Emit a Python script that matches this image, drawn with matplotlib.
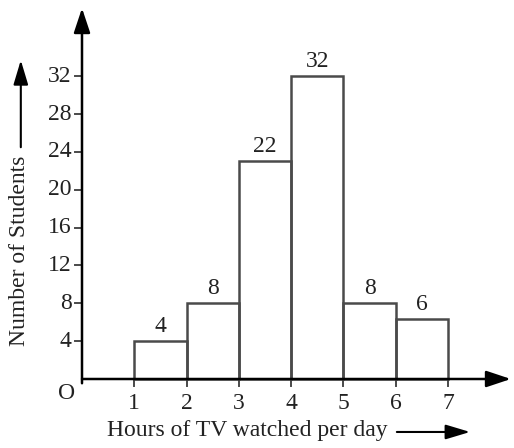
import matplotlib
matplotlib.use("Agg")
import matplotlib.pyplot as plt

# Data
bin_edges = [1, 2, 3, 4, 5, 6, 7]
heights = [4, 8, 23, 32, 8, 6.3]          # drawn bar heights as read
bar_labels = ["4", "8", "22", "32", "8", "6"]
y_ticks = [4, 8, 12, 16, 20, 24, 28, 32]
x_ticks = [1, 2, 3, 4, 5, 6, 7]

plt.rcParams['font.family'] = ['Liberation Serif', 'DejaVu Serif']
fig = plt.figure(figsize=(5.14, 4.48), dpi=100)
ax = fig.add_axes([0, 0, 1, 1])
ax.set_xlim(-82 / 52.3, (514 - 82) / 52.3)
ax.set_ylim(-(448 - 379) / 9.46, 379 / 9.46)
ax.axis('off')

lc = '#4a4a4a'
tc = '#222222'
fs = 17

# bars
lefts = bin_edges[:-1]
widths = [b - a for a, b in zip(bin_edges[:-1], bin_edges[1:])]
ax.bar(lefts, heights, width=widths, align='edge', fill=False,
       edgecolor=lc, linewidth=1.8, zorder=2)
for l, w, h, t in zip(lefts, widths, heights, bar_labels):
    ax.text(l + w / 2, h + 1.55, t, ha='center', va='center', fontsize=fs, color=tc)

# axes with arrows
big = dict(arrowstyle='-|>,head_length=1.5,head_width=0.5',
           color='black', lw=1.8, shrinkA=0, shrinkB=0)
ax.annotate('', xy=(0, 39.2), xytext=(0, -0.45), arrowprops=big)
ax.annotate('', xy=(8.2, 0), xytext=(0, 0), arrowprops=big)

# ticks
for v in y_ticks:
    ax.plot([-0.13, 0], [v, v], color=lc, lw=1.4)
    ax.text(-0.2, v, str(v), ha='right', va='center', fontsize=fs, color=tc)
for v in x_ticks:
    ax.plot([v, v], [0, -0.7], color=lc, lw=1.4)
    ax.text(v, -2.55, str(v), ha='center', va='center', fontsize=fs, color=tc)
ax.text(-0.29, -1.5, 'O', ha='center', va='center', fontsize=fs, color=tc)

# axis labels with arrows
small = dict(arrowstyle='-|>,head_length=1.5,head_width=0.45',
             color='black', lw=1.5, shrinkA=0, shrinkB=0)
ax.text(3.17, -5.4, 'Hours of TV watched per day', ha='center', va='center',
        fontsize=fs, color=tc)
ax.annotate('', xy=(7.42, -5.6), xytext=(6.02, -5.6), arrowprops=small)
ax.text(-1.19, 13.6, 'Number of Students', ha='center', va='center',
        rotation=90, fontsize=fs, color=tc)
ax.annotate('', xy=(-1.17, 33.7), xytext=(-1.17, 24.5), arrowprops=small)

fig.savefig('out.png', dpi=100)
